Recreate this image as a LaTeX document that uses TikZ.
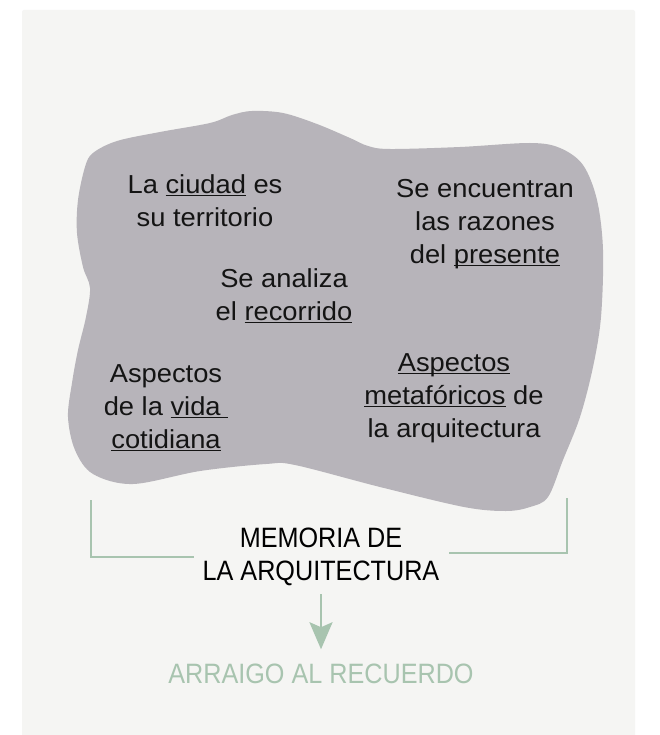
\documentclass[tikz,border=0pt]{standalone}
\usepackage{fontspec}
\setmainfont[FakeStretch=1.05]{Liberation Sans}
\newfontfamily\capsfont[FakeStretch=0.9]{Liberation Sans}
\usetikzlibrary{arrows.meta}

\definecolor{blobgray}{HTML}{B7B4BA}
\definecolor{sage}{HTML}{A8C4AF}
\definecolor{paper}{HTML}{F5F5F3}

\newcommand{\subr}[1]{\setbox0\hbox{#1}\rlap{\rule[-3pt]{\wd0}{1.5pt}}\box0\relax}

\tikzstyle{idea} = [font=\fontsize{26}{33}\selectfont, align=center, inner sep=0pt, anchor=base, text=black!92]
\tikzstyle{heading} = [font=\capsfont\fontsize{28}{33}\selectfont, align=center, inner sep=0pt, anchor=base]
\tikzstyle{bracket} = [draw=sage, line width=2.4pt]
\tikzstyle{arrowdecorate} = [-{Stealth[length=27pt,width=23pt,inset=5pt]}, draw=sage, line width=2.4pt]

\begin{document}
\begin{tikzpicture}[x=1pt,y=-1pt]
    \useasboundingbox (0,0) rectangle (659,735);
    \fill[white] (0,0) rectangle (659,735);
    \fill[paper, rounded corners=2pt] (22,10) rectangle (635,745);

    %blob
    \fill[blobgray] plot[smooth cycle, tension=0.55] coordinates {
      (93,153) (117,141) (160,132) (210,123) (232,115) (252,111) (283,113)
      (317,124) (350,138) (368,146) (390,149) (460,147) (530,143) (560,148)
      (583,165) (597,200) (603,250) (601,317) (593,367) (580,417) (563,460)
      (548,497) (530,507) (506,511) (464,507) (380,487) (295,465) (266,464)
      (200,471) (133,484) (93,474) (75,450) (68,417) (72,383) (78,350)
      (86,317) (90,288) (83,267) (77,233) (78,200) (85,167)};

    %base is the last line
    \foreach \nodename/\x/\y/\content in {
      ciudad/205/226/{La \subr{ciudad} es\\su territorio},
      razones/485/263/{Se encuentran\\las razones\\del \subr{presente}},
      recorrido/284/320/{Se analiza\\el \subr{recorrido}},
      vida/166/448/{Aspectos\\de la \subr{vida\ }\\\subr{cotidiana}},
      metaforicos/454/437/{\subr{Aspectos}\\\subr{metafóricos} de\\la arquitectura}}
    {
      \node[idea] (\nodename) at (\x,\y) {\content};
    }

    \node[heading] (memoria) at (321,580) {MEMORIA DE\\LA ARQUITECTURA};
    \node[heading, text=sage] (arraigo) at (321,683) {ARRAIGO AL RECUERDO};

    %brackets
    \coordinate (lefttop) at (91,500);
    \coordinate (leftend) at (194,557);
    \coordinate (righttop) at (567,498);
    \coordinate (rightend) at (449,553);
    \draw[bracket] (lefttop) |- (leftend);
    \draw[bracket] (righttop) |- (rightend);

    \draw[arrowdecorate, shorten <=9pt, shorten >=14pt] (memoria.south) -- (memoria.south |- arraigo.north);
\end{tikzpicture}
\end{document}
